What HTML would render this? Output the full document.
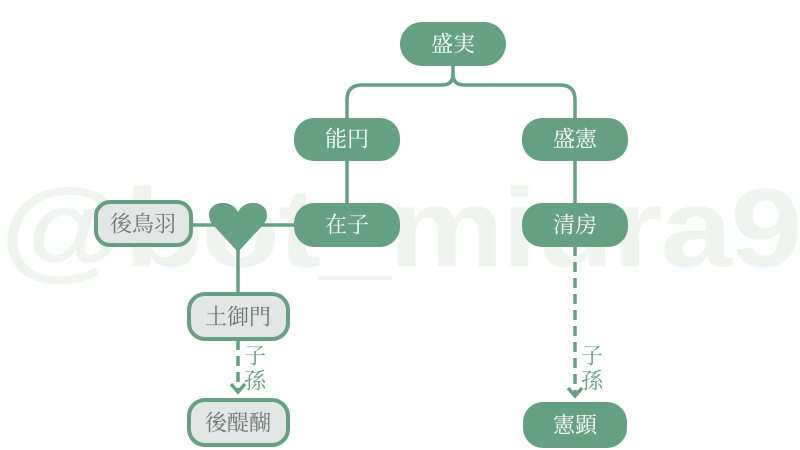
<!DOCTYPE html>
<html><head><meta charset="utf-8"><style>
html,body{margin:0;padding:0;background:#fff;}
svg{display:block}
text{font-family:"Liberation Serif","Noto Serif CJK SC",serif;font-size:22px;text-anchor:middle;dominant-baseline:central}
</style></head><body>
<svg width="800" height="450" viewBox="0 0 800 450">
<text x="400" y="228" style="font-family:'Liberation Sans','DejaVu Sans',sans-serif;font-weight:bold;font-size:112px;fill:#f0f4f1;letter-spacing:-2px" textLength="800" lengthAdjust="spacingAndGlyphs">@bot_miura9</text>
<g fill="none" stroke="#66a083" stroke-width="3.5">
<path d="M453 64 V74 Q453 85 442 85 H362 Q347 85 347 100 V120"/>
<path d="M453 74 Q453 85 464 85 H560 Q575 85 575 100 V120"/>
<path d="M347 158 V205"/>
<path d="M575 158 V205"/>
<path d="M190 225 H296"/>
<path d="M238 240 V294"/>
<path d="M238 340 V392" stroke-dasharray="10 6"/>
<path d="M231 384 L238 392 L245 384"/>
<path d="M575 246 V396" stroke-dasharray="10 6"/>
<path d="M568 388 L575 396 L582 388"/>
</g>
<path d="M238 252 L213 225 C204 214 211 202 224 203 C231 203 236 208 238 212 C240 208 245 203 252 203 C265 202 272 214 263 225 Z" fill="#66a083"/>
<g fill="#66a083">
<rect x="400" y="22" width="106" height="44" rx="22"/>
<rect x="294" y="118" width="106" height="43" rx="20"/>
<rect x="522" y="118" width="106" height="43" rx="20"/>
<rect x="294" y="203" width="106" height="44" rx="20"/>
<rect x="522" y="203" width="106" height="44" rx="20"/>
<rect x="523" y="402" width="104" height="46" rx="20"/>
</g>
<g fill="#e2e6e5" stroke="#66a083" stroke-width="4">
<rect x="96" y="202" width="95" height="43" rx="14"/>
<rect x="189" y="294" width="99" height="45" rx="16"/>
<rect x="189" y="400" width="99" height="45" rx="16"/>
</g>
<g fill="#fff">
<text x="453" y="44">盛実</text>
<text x="347" y="139">能円</text>
<text x="575" y="139">盛憲</text>
<text x="347" y="225">在子</text>
<text x="575" y="225">清房</text>
<text x="575" y="425">憲顕</text>
</g>
<g fill="#6d7772">
<text x="143" y="224">後鳥羽</text>
<text x="238" y="317">土御門</text>
<text x="238" y="423">後醍醐</text>
</g>
<g fill="#66a083">
<text x="255" y="356">子</text>
<text x="255" y="381">孫</text>
<text x="592" y="356">子</text>
<text x="592" y="381">孫</text>
</g>
</svg>
</body></html>
